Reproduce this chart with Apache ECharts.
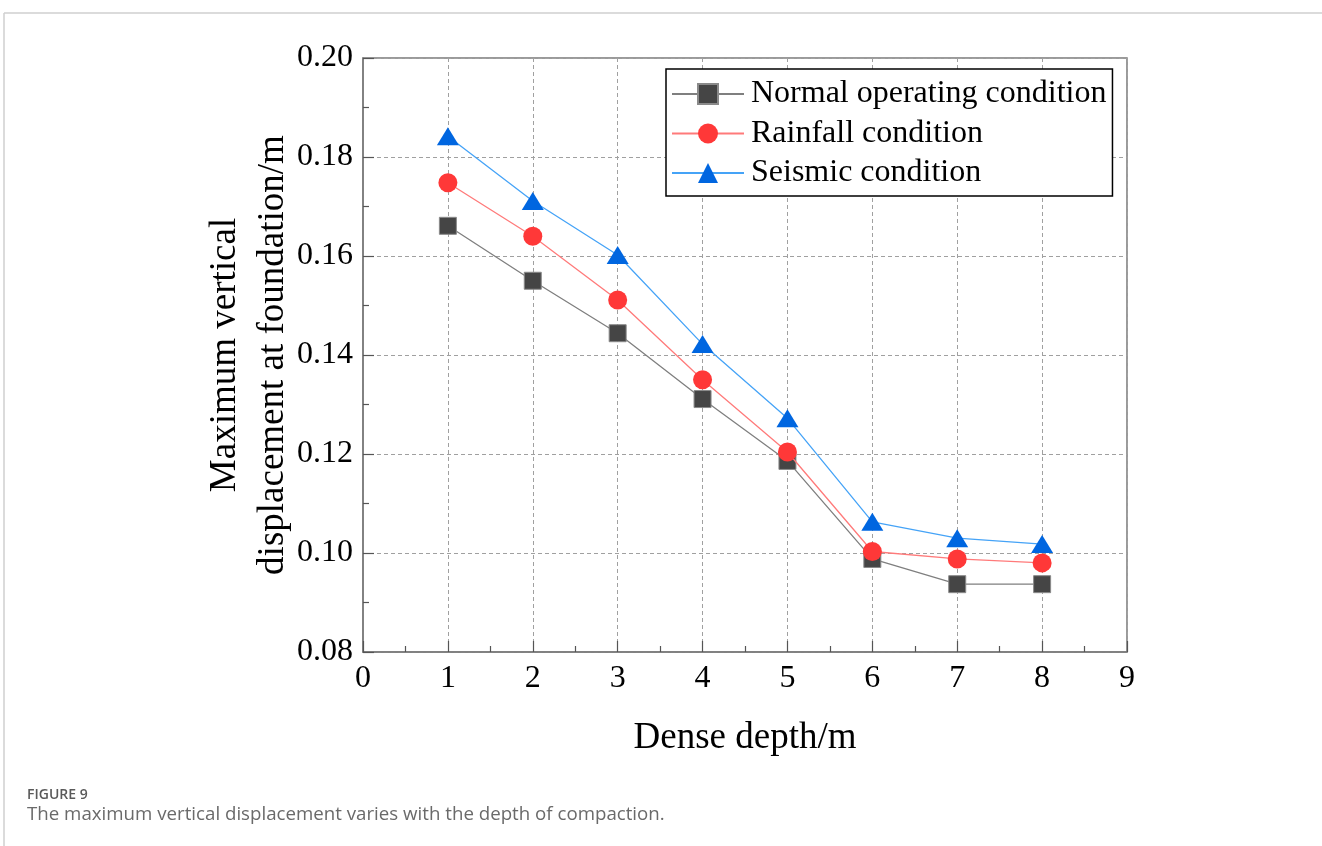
<!DOCTYPE html>
<html>
<head>
<meta charset="utf-8">
<script src="https://cdn.jsdelivr.net/npm/echarts@6/dist/echarts.min.js"></script>
<style>
html,body{margin:0;padding:0;background:#fff;}
#chart{width:1322px;height:846px;}
</style>
</head>
<body>
<div id="chart"></div>
<script>
var depths = [1, 2, 3, 4, 5, 6, 7, 8];
var normalValues = [0.1661, 0.1550, 0.1444, 0.1311, 0.1186, 0.0988, 0.0937, 0.0937];
var rainfallValues = [0.1748, 0.1640, 0.1511, 0.1350, 0.1204, 0.1003, 0.0988, 0.0980];
var seismicValues = [0.1842, 0.1711, 0.1602, 0.1422, 0.1272, 0.1063, 0.1030, 0.1018];
var seriesNames = ['Normal operating condition', 'Rainfall condition', 'Seismic condition'];
var xTitle = 'Dense depth/m';
var yTitle = 'Maximum vertical\ndisplacement at foundation/m';
var captionLabel = 'FIGURE 9';
var captionText = 'The maximum vertical displacement varies with the depth of compaction.';

function pairs(vals) { return depths.map(function (d, i) { return [d, vals[i]]; }); }

var serif = '"Liberation Serif", "Times New Roman", serif';
var chart = echarts.init(document.getElementById('chart'));
chart.setOption({
  animation: false,
  backgroundColor: '#fff',
  grid: {
    left: 363, right: 195, top: 58, bottom: 194,
    show: true, borderColor: '#7a7a7a', borderWidth: 1.5, backgroundColor: 'transparent'
  },
  legend: {
    left: 666, top: 69,
    orient: 'vertical',
    itemWidth: 72, itemHeight: 25, itemGap: 7.5,
    padding: [9, 6, 7, 5],
    borderColor: '#000', borderWidth: 1.5,
    backgroundColor: '#fff',
    textStyle: { fontFamily: serif, fontSize: 32, color: '#000', padding: [0, 0, 0, 2] },
    data: seriesNames
  },
  xAxis: {
    type: 'value', min: 0, max: 9, interval: 1,
    name: xTitle, nameLocation: 'middle', nameGap: 68,
    nameTextStyle: { fontFamily: serif, fontSize: 37, color: '#000' },
    axisLine: { show: true, lineStyle: { color: '#7a7a7a', width: 1.5 } },
    axisTick: { show: true, inside: true, length: 11, lineStyle: { color: '#555', width: 1.2 } },
    minorTick: { show: true, splitNumber: 2, length: 6, lineStyle: { color: '#555', width: 1.2 } },
    axisLabel: { fontFamily: serif, fontSize: 32, color: '#000', margin: 11 },
    splitLine: { show: true, lineStyle: { color: '#a0a0a0', type: [4, 3], width: 1 } }
  },
  yAxis: {
    type: 'value', min: 0.08, max: 0.20, interval: 0.02,
    name: yTitle, nameLocation: 'middle', nameGap: 66, nameRotate: 90,
    nameMoveOverlap: false,
    nameTextStyle: { fontFamily: serif, fontSize: 37, color: '#000', lineHeight: 48 },
    axisLine: { show: true, lineStyle: { color: '#7a7a7a', width: 1.5 } },
    axisTick: { show: true, inside: true, length: 11, lineStyle: { color: '#555', width: 1.2 } },
    minorTick: { show: true, splitNumber: 2, length: 6, lineStyle: { color: '#555', width: 1.2 } },
    axisLabel: {
      fontFamily: serif, fontSize: 32, color: '#000', margin: 10,
      formatter: function (v) { return v.toFixed(2); }
    },
    splitLine: { show: true, lineStyle: { color: '#a0a0a0', type: [4, 3], width: 1 } }
  },
  series: [
    {
      name: seriesNames[0], type: 'line', data: pairs(normalValues),
      symbol: 'rect', symbolSize: 17,
      itemStyle: { color: '#454545', borderColor: '#8a8a8a', borderWidth: 1 },
      lineStyle: { color: '#7f7f7f', width: 1.3 }, z: 3
    },
    {
      name: seriesNames[1], type: 'line', data: pairs(rainfallValues),
      symbol: 'circle', symbolSize: 19,
      itemStyle: { color: '#ff3838', borderWidth: 0 },
      lineStyle: { color: '#ff7a7a', width: 1.3 }, z: 4
    },
    {
      name: seriesNames[2], type: 'line', data: pairs(seismicValues),
      symbol: 'triangle', symbolSize: [22, 18],
      itemStyle: { color: '#0066e0', borderWidth: 0 },
      lineStyle: { color: '#45a3f7', width: 1.3 }, z: 5
    }
  ],
  graphic: [
    { type: 'line', shape: { x1: 4, y1: 13, x2: 1322, y2: 13 }, style: { stroke: '#cfcfcf', lineWidth: 1.5 }, silent: true },
    { type: 'line', shape: { x1: 4, y1: 13, x2: 4, y2: 846 }, style: { stroke: '#cfcfcf', lineWidth: 1.5 }, silent: true },
    { type: 'text', left: 27, top: 788, style: { text: captionLabel, font: '600 14px "Open Sans", "Noto Sans", sans-serif', fill: '#5a5a5a' } },
    { type: 'text', left: 27, top: 805, style: { text: captionText, font: '18.7px "Open Sans", "Noto Sans", sans-serif', fill: '#6a6a6a' } }
  ]
});
</script>
</body>
</html>
